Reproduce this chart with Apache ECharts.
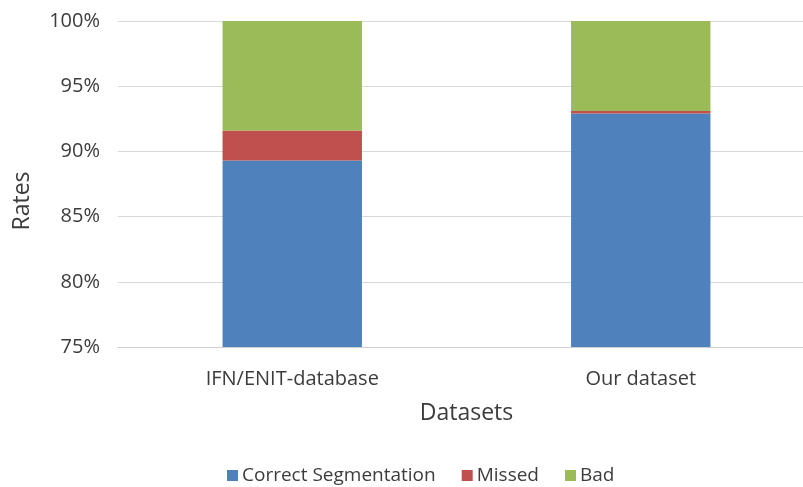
<!DOCTYPE html>
<html>
<head>
<meta charset="utf-8">
<script src="https://cdn.jsdelivr.net/npm/echarts@6/dist/echarts.min.js"></script>
<style>
  html, body { margin: 0; padding: 0; background: #fff; }
  #chart { width: 803px; height: 487px; }
</style>
</head>
<body>
<div id="chart"></div>
<script>
// Segmentation outcome rates per dataset (percent)
const categories = ['IFN/ENIT-database', 'Our dataset'];
const correctSegmentation = [89.3, 92.9];
const missed = [2.3, 0.2];
const bad = [8.4, 6.9];

const FONT = '"Open Sans", "Liberation Sans", sans-serif';
const TEXT = '#3c3c3c';

const chart = echarts.init(document.getElementById('chart'));

const seriesDefs = [
  { name: 'Correct Segmentation', data: correctSegmentation, color: '#4f81bd' },
  { name: 'Missed', data: missed, color: '#c0504d' },
  { name: 'Bad', data: bad, color: '#9bbb59' }
];

chart.setOption({
  animation: false,
  textStyle: { fontFamily: FONT },
  // plot area runs slightly past the right edge of the canvas
  grid: { left: 118, width: 697, top: 21, height: 326, outerBoundsMode: 'none', containLabel: false },
  legend: {
    top: 461,
    left: 222,
    itemWidth: 11,
    itemHeight: 11,
    itemGap: 26,
    icon: 'rect',
    textStyle: { fontSize: 19, color: TEXT, fontFamily: FONT, padding: [0, 0, 0, -1] },
    data: seriesDefs.map(s => s.name)
  },
  xAxis: {
    type: 'category',
    data: categories,
    name: 'Datasets',
    nameLocation: 'middle',
    nameGap: 55,
    nameTextStyle: { fontSize: 23, color: TEXT, fontFamily: FONT },
    axisLine: { show: true, lineStyle: { color: '#d0d0d0', width: 1 } },
    axisTick: { show: false },
    axisLabel: { fontSize: 20, color: TEXT, margin: 22, fontFamily: FONT }
  },
  yAxis: {
    type: 'value',
    min: 75,
    max: 100,
    interval: 5,
    name: 'Rates',
    nameLocation: 'middle',
    nameGap: 84,
    nameTextStyle: { fontSize: 23, color: TEXT, fontFamily: FONT, padding: [0, 34, 0, 0] },
    axisLine: { show: false },
    axisTick: { show: false },
    axisLabel: { fontSize: 20, color: TEXT, margin: 18, formatter: v => v + '%', fontFamily: FONT },
    splitLine: { lineStyle: { color: '#d9d9d9', width: 1 } }
  },
  series: seriesDefs.map(s => ({
    name: s.name,
    type: 'bar',
    stack: 'rates',
    barWidth: '40%',
    data: s.data,
    itemStyle: { color: s.color }
  }))
});
</script>
</body>
</html>
